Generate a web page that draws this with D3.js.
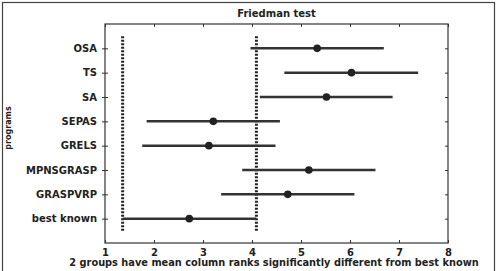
<!DOCTYPE html>
<html>
<head>
<meta charset="utf-8">
<script src="https://cdn.jsdelivr.net/npm/d3@7"></script>
<style>
  body { margin: 0; background: #fff; }
  text { font-family: "DejaVu Sans", Verdana, sans-serif; font-weight: bold; fill: #222; }
</style>
</head>
<body>
<script>
// groups, top to bottom
var programs = ["OSA", "TS", "SA", "SEPAS", "GRELS", "MPNSGRASP", "GRASPVRP", "best known"];
// mean column ranks and comparison intervals
var means = [5.33, 6.03, 5.52, 3.21, 3.12, 5.16, 4.73, 2.72];
var lower = [3.97, 4.66, 4.16, 1.85, 1.76, 3.80, 3.37, 1.36];
var upper = [6.69, 7.39, 6.87, 4.57, 4.48, 6.52, 6.09, 4.09];
var xTicks = [1, 2, 3, 4, 5, 6, 7, 8];

function draw() {
    var width = 498, height = 271;
    var svg = d3.select("body").append("svg")
        .attr("width", width)
        .attr("height", height);

    // outer frame
    svg.append("rect")
        .attr("x", 2.5).attr("y", 2.5)
        .attr("width", 492).attr("height", 272)
        .attr("fill", "none").attr("stroke", "#444").attr("stroke-width", 1.2);

    var pLeft = 105, pRight = 448, pTop = 24, pBottom = 243;

    var x = d3.scaleLinear().domain([1, 8]).range([pLeft, pRight]);
    // group 1 at top, values 8..1
    var y = d3.scaleLinear().domain([0, 9]).range([pBottom, pTop]);
    var n = programs.length;
    function yPos(i) { return y(n - i); }

    // plot box
    svg.append("rect")
        .attr("x", pLeft).attr("y", pTop)
        .attr("width", pRight - pLeft).attr("height", pBottom - pTop)
        .attr("fill", "none").attr("stroke", "#333").attr("stroke-width", 1.2);

    // bottom axis
    var gx = svg.append("g").attr("transform", "translate(0," + pBottom + ")")
        .call(d3.axisBottom(x).tickValues(xTicks).tickSize(-3).tickPadding(6).tickFormat(d3.format("d")));
    gx.select(".domain").remove();
    gx.selectAll("line").attr("stroke", "#333");
    gx.selectAll("text").attr("font-size", 10).attr("fill", "#222")
        .style("font-family", "DejaVu Sans, Verdana, sans-serif");

    // top ticks
    var gxt = svg.append("g").attr("transform", "translate(0," + pTop + ")")
        .call(d3.axisTop(x).tickValues(xTicks).tickSize(-3).tickFormat(""));
    gxt.select(".domain").remove();
    gxt.selectAll("line").attr("stroke", "#333");

    // left axis with labels
    var gy = svg.append("g").attr("transform", "translate(" + pLeft + ",0)")
        .call(d3.axisLeft(y).tickValues(programs.map(function(d, i) { return n - i; }))
            .tickSize(3).tickPadding(5)
            .tickFormat(function(d) { return programs[n - d]; }));
    gy.select(".domain").remove();
    gy.selectAll("line").attr("stroke", "#333").attr("x2", 3).attr("x1", -3);
    gy.selectAll("text").attr("font-size", 10).attr("fill", "#222")
        .style("font-family", "DejaVu Sans, Verdana, sans-serif");

    // right ticks
    var gyr = svg.append("g").attr("transform", "translate(" + pRight + ",0)")
        .call(d3.axisRight(y).tickValues(programs.map(function(d, i) { return i + 1; })).tickSize(-3).tickFormat(""));
    gyr.select(".domain").remove();
    gyr.selectAll("line").attr("stroke", "#333");

    // reference lines at the best known interval
    var best = n - 1;
    [lower[best], upper[best]].forEach(function(v) {
        svg.append("line")
            .attr("x1", x(v)).attr("x2", x(v))
            .attr("y1", y(8.5)).attr("y2", y(0.5))
            .attr("stroke", "#222").attr("stroke-width", 3)
            .attr("stroke-dasharray", "2,1.5");
    });

    // intervals
    svg.selectAll(".interval")
        .data(programs)
        .enter().append("line")
        .attr("class", "interval")
        .attr("x1", function(d, i) { return x(lower[i]); })
        .attr("x2", function(d, i) { return x(upper[i]); })
        .attr("y1", function(d, i) { return yPos(i); })
        .attr("y2", function(d, i) { return yPos(i); })
        .attr("stroke", "#333")
        .attr("stroke-width", 2.5);

    // means
    svg.selectAll(".mean")
        .data(programs)
        .enter().append("circle")
        .attr("class", "mean")
        .attr("cx", function(d, i) { return x(means[i]); })
        .attr("cy", function(d, i) { return yPos(i); })
        .attr("r", 3.8)
        .attr("fill", "#222");

    // title and labels
    svg.append("text")
        .attr("x", (pLeft + pRight) / 2).attr("y", 17)
        .attr("text-anchor", "middle").attr("font-size", 10)
        .text("Friedman test");

    svg.append("text")
        .attr("x", 274).attr("y", 266)
        .attr("text-anchor", "middle").attr("font-size", 9.8)
        .text("2 groups have mean column ranks significantly different from best known");

    svg.append("text")
        .attr("transform", "translate(11,128) rotate(-90)")
        .attr("text-anchor", "middle").attr("font-size", 8)
        .text("programs");
}

draw();
</script>
</body>
</html>
